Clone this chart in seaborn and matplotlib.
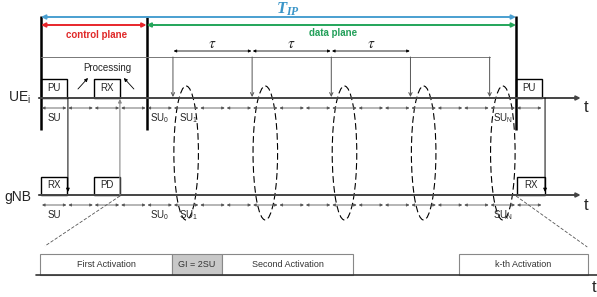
import matplotlib
matplotlib.use("Agg")
import pandas as pd
import matplotlib.pyplot as plt
import seaborn as sns
from matplotlib.patches import Rectangle, Ellipse

# --- diagram data (x in SU units, 0 = start of T_IP) ---
su_count = 19
ellipse_slots = [5, 8, 11, 14, 17]
tau_pairs = [(5, 8), (8, 11), (11, 14)]
plane_bounds = [0, 4, 18]

ue_boxes = [("PU", 0, 1), ("RX", 2, 3), ("PU", 18, 19)]
gnb_boxes = [("RX", 0, 1), ("PD", 2, 3), ("RX", 18.05, 19.1)]

ue_su_labels = ["SU", "SU_0", "SU_1", "SU_N"]
ue_su_pos = [0.5, 4.5, 5.6, 17.5]
gnb_su_labels = ["SU", "SU_0", "SU_1", "SU_N"]
gnb_su_pos = [0.5, 4.5, 5.6, 17.5]

act_labels = ["First Activation", "GI = 2SU", "Second Activation", "k-th Activation"]
act_start = [-0.03, 4.96, 6.86, 15.83]
act_end = [4.96, 6.86, 11.83, 20.72]
act_fill = ["white", "#c8c8c8", "white", "white"]

# vertical levels (top -> bottom)
Y_TIP, Y_PLANE, Y_TAU, Y_REF = 17, 25, 51, 57
Y_UE, Y_UE_SU = 98, 108
Y_GNB, Y_GNB_SU = 195, 205
Y_ACT = 275
SU_PX = 26.39

sns.set_theme(style="white")
plt.rcParams['font.family'] = ['Liberation Sans', 'DejaVu Sans']
plt.rcParams['mathtext.fontset'] = 'stix'

fig = plt.figure(figsize=(5.97, 2.97), dpi=100)
ax = fig.add_axes([0, 0, 1, 1])
ax.set_xlim(-41 / SU_PX, 556 / SU_PX)
ax.set_ylim(297, 0)
ax.axis("off")


def arrow(x0, y0, x1, y1, style="-|>", color="black", lw=0.8, ms=6, shrink=0):
    ax.annotate("", xy=(x1, y1), xytext=(x0, y0),
                arrowprops=dict(arrowstyle=style, color=color, lw=lw,
                                mutation_scale=ms, shrinkA=shrink, shrinkB=shrink))


def sub(s):
    if "_" in s:
        a, b = s.split("_")
        return r"$\mathregular{%s_{%s}}$" % (a, b)
    return s


# top span arrows
arrow(0, Y_TIP, 18, Y_TIP, "<|-|>", "#4a9fd0", 1.4, 6)
arrow(0, Y_PLANE, 4, Y_PLANE, "<|-|>", "#e8262b", 1.4, 6)
arrow(4, Y_PLANE, 18, Y_PLANE, "<|-|>", "#23a55a", 1.4, 6)
ax.text(9.35, 9, r"$\mathregular{T_{IP}}$", color="#3a95c8", fontsize=12,
        fontweight="bold", fontstyle="italic", ha="center", va="center",
        family=["Liberation Serif", "DejaVu Serif"])
ax.text(2.1, 35, "control plane", color="#e02828", fontsize=7,
        fontweight="bold", ha="center", va="center")
ax.text(11.05, 33, "data plane", color="#23a05a", fontsize=7,
        fontweight="bold", ha="center", va="center")

# thick plane boundaries
for xb in plane_bounds:
    ax.plot([xb, xb], [16, 130], color="black", lw=1.8, solid_capstyle="butt")

# tau reference line and arrows
ref = pd.DataFrame({"x": [0, ellipse_slots[-1]], "y": [Y_REF, Y_REF]})
sns.lineplot(data=ref, x="x", y="y", ax=ax, color="#777777", lw=0.7)
for a, b in tau_pairs:
    arrow(a, Y_TAU, b, Y_TAU, "<|-|>", "black", 0.6, 4, 0.5)
    ax.text((a + b) / 2, 44, r"$\tau$", fontsize=11, ha="center", va="center")
for s in ellipse_slots:
    arrow(s, Y_REF, s, Y_UE - 1, "->", "#555555", 0.7, 6)

# time lines
for y in [Y_UE, Y_GNB]:
    arrow(-0.08, y, 20.45, y, "-|>", "#444444", 1.4, 6)
    ax.text(20.55, y + 10, "t", fontsize=12, ha="left", va="center")
ax.text(-1.25, Y_UE, r"$\mathregular{UE_i}$", fontsize=10, ha="left", va="center")
ax.text(-1.38, Y_GNB + 2, "gNB", fontsize=10, ha="left", va="center")

# SU segments
for y in [Y_UE_SU, Y_GNB_SU]:
    for k in range(su_count):
        arrow(k, y, k + 1, y, "<|-|>", "#555555", 0.6, 4, 0.7)
for lab, x in zip(ue_su_labels, ue_su_pos):
    ax.text(x, Y_UE_SU + 10, sub(lab), fontsize=7, ha="center", va="center")
for lab, x in zip(gnb_su_labels, gnb_su_pos):
    ax.text(x, Y_GNB_SU + 10, sub(lab), fontsize=7, ha="center", va="center")

# boxes
for lab, a, b in ue_boxes:
    ax.add_patch(Rectangle((a, Y_UE - 19), b - a, 19, fill=False, ec="black", lw=1.0))
    ax.text((a + b) / 2, Y_UE - 10, lab, fontsize=7, ha="center", va="center")
for lab, a, b in gnb_boxes:
    ax.add_patch(Rectangle((a, Y_GNB - 18), b - a, 18, fill=False, ec="black", lw=1.0))
    ax.text((a + b) / 2, Y_GNB - 9.5, lab, fontsize=7, ha="center", va="center")

# processing
ax.text(2.5, 68, "Processing", fontsize=7, ha="center", va="center")
arrow(1.40, 89, 1.78, 78, "-|>", "black", 0.6, 5)
arrow(3.52, 89, 3.14, 78, "-|>", "black", 0.6, 5)

# messages between UE and gNB
arrow(1.02, Y_UE, 1.02, Y_GNB - 3, "-|>", "black", 0.7, 5)
arrow(2.99, Y_GNB, 2.99, Y_UE + 1, "-|>", "#888888", 0.8, 5)
arrow(19.1, Y_UE, 19.1, Y_GNB - 3, "-|>", "black", 0.7, 5)

# dashed ellipses
for s in ellipse_slots:
    ax.add_patch(Ellipse((s + 0.5, 153), 0.93, 134, fill=False, ec="black",
                         lw=0.8, ls=(0, (6, 3))))

# zoom lines to activation bar
ax.plot([2.99, 0.15], [Y_GNB + 1, 246], color="#555555", lw=0.6, ls=(0, (4, 2)))
ax.plot([18.0, 20.7], [Y_GNB + 1, 247], color="#555555", lw=0.6, ls=(0, (4, 2)))

# activation bar
base = pd.DataFrame({"x": [-0.2, 21.1], "y": [Y_ACT, Y_ACT]})
sns.lineplot(data=base, x="x", y="y", ax=ax, color="#333333", lw=1.2)
for lab, a, b, fc in zip(act_labels, act_start, act_end, act_fill):
    ax.add_patch(Rectangle((a, Y_ACT - 21), b - a, 21, fc=fc, ec="#888888", lw=0.8))
    ax.text((a + b) / 2, Y_ACT - 10.5, lab, fontsize=6.5, ha="center", va="center",
            color="#333333")
ax.text(20.95, 287, "t", fontsize=12, ha="center", va="center")

ax.set_xlabel("")
ax.set_ylabel("")
fig.savefig("out.png", dpi=100)
